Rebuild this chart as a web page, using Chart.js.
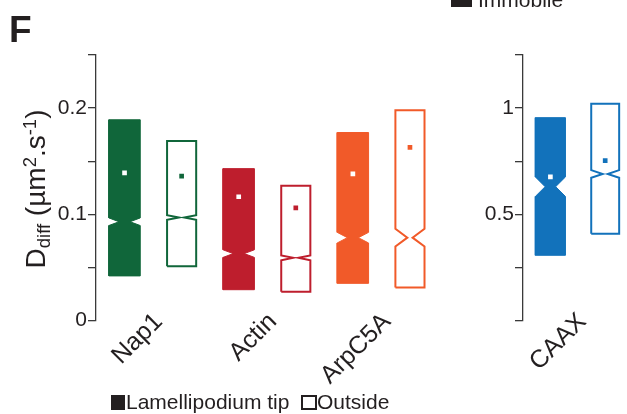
<!DOCTYPE html>
<html><head><meta charset="utf-8">
<script src="https://cdn.jsdelivr.net/npm/chart.js@4.4.1/dist/chart.umd.min.js"></script>
<style>
html,body{margin:0;padding:0;background:#fff;}
body{width:627px;height:414px;position:relative;overflow:hidden;font-family:'Liberation Sans',Arial,Helvetica,sans-serif;color:#231f20;}
canvas{position:absolute;top:0;}
#cA{left:0;}
#cB{left:460px;}
.t{position:absolute;white-space:nowrap;line-height:1;}
.sq{position:absolute;box-sizing:border-box;}
#ytitle{position:absolute;left:36px;top:189px;transform:translate(-50%,-50%) rotate(-90deg);font-size:28px;line-height:1;white-space:nowrap;}
.sub{font-size:0.66em;position:relative;top:0.28em;}
.sup{font-size:0.66em;position:relative;top:-0.5em;}
</style></head>
<body>
<canvas id="cA" width="460" height="414"></canvas>
<canvas id="cB" width="167" height="414"></canvas>
<div class="t" style="left:9px;top:10.7px;font-size:37px;font-weight:bold;">F</div>
<div class="sq" style="left:451px;top:-9px;width:21px;height:16px;background:#231f20;"></div>
<div class="t" style="left:478px;top:-11px;font-size:21px;">Immobile</div>
<div id="ytitle">D<span class="sub">diff</span> (µm<span class="sup">2</span>.s<span class="sup">-1</span>)</div>
<div class="sq" style="left:111px;top:395px;width:14px;height:15px;background:#231f20;"></div>
<div class="t" style="left:126px;top:391px;font-size:21px;">Lamellipodium tip</div>
<div class="sq" style="left:301px;top:395px;width:16px;height:15px;border:2px solid #231f20;"></div>
<div class="t" style="left:317px;top:391px;font-size:21px;">Outside</div>
<script>
// ---- data ----
const groupsA = ['Nap1', 'Actin', 'ArpC5A'];
const groupsB = ['CAAX'];
const colorsA = ['#10663a', '#be1e2d', '#f15a29'];
const colorsB = ['#1272bb'];
// Lamellipodium tip (filled boxes)
const tipQ1A = [0.042, 0.029, 0.035];
const tipQ3A = [0.189, 0.143, 0.177];
const tipMedA = [0.093, 0.063, 0.078];
const tipNotchA = [0.0036, 0.0036, 0.005];
const tipMeanA = [0.139, 0.1165, 0.138];
// Outside (open boxes)
const outQ1A = [0.051, 0.027, 0.031];
const outQ3A = [0.169, 0.127, 0.198];
const outMedA = [0.097, 0.059, 0.078];
const outNotchA = [0.0022, 0.0023, 0.0083];
const outMeanA = [0.136, 0.106, 0.163];
// CAAX panel
const tipQ1B = [0.307];
const tipQ3B = [0.955];
const tipMedB = [0.63];
const tipNotchB = [0.046];
const tipMeanB = [0.676];
const outQ1B = [0.409];
const outQ3B = [1.021];
const outMedB = [0.69];
const outNotchB = [0.018];
const outMeanB = [0.753];
// axis ticks
const yTicksA = [0, 0.05, 0.1, 0.15, 0.2, 0.25];
const yLabelsA = ['0', '', '0.1', '', '0.2', ''];
const yTicksB = [0, 0.25, 0.5, 0.75, 1, 1.25];
const yLabelsB = ['', '', '0.5', '', '1', ''];

const FONT = "'Liberation Sans', Arial, Helvetica, sans-serif";
const INK = '#231f20';
const AXC = '#3a3a3a';

function notched(cx, q1, q3, med, notch, half, depth) {
  return [
    {x: cx - half, y: q1}, {x: cx + half, y: q1},
    {x: cx + half, y: med - notch}, {x: cx + half - depth, y: med}, {x: cx + half, y: med + notch},
    {x: cx + half, y: q3}, {x: cx - half, y: q3},
    {x: cx - half, y: med + notch}, {x: cx - half + depth, y: med}, {x: cx - half, y: med - notch},
    {x: cx - half, y: q1}
  ];
}

function buildDatasets(groups, colors, t, o) {
  const ds = [];
  const fh = 0.275, oh = 0.255;
  ds.push({
    data: groups.map((g, i) => ({x: 2 * i, y: t.mean[i]})),
    pointStyle: 'rect', pointRadius: 3.3, pointBorderWidth: 0,
    pointBackgroundColor: '#ffffff', showLine: false
  });
  ds.push({
    data: groups.map((g, i) => ({x: 2 * i + 1, y: o.mean[i]})),
    pointStyle: 'rect', pointRadius: 3.3, pointBorderWidth: 0,
    pointBackgroundColor: colors, showLine: false
  });
  groups.forEach((g, i) => {
    ds.push({
      data: notched(2 * i, t.q1[i], t.q3[i], t.med[i], t.notch[i], fh, fh * 0.65),
      showLine: true, fill: 'shape', backgroundColor: colors[i], borderColor: colors[i],
      borderWidth: 1, pointRadius: 0, tension: 0, borderJoinStyle: 'miter'
    });
    ds.push({
      data: notched(2 * i + 1, o.q1[i], o.q3[i], o.med[i], o.notch[i], oh, oh * 0.82),
      showLine: true, fill: false, borderColor: colors[i],
      borderWidth: 2, pointRadius: 0, tension: 0, borderJoinStyle: 'miter'
    });
  });
  return ds;
}

function makeChart(id, groups, colors, t, o, yMax, yTicks, yLabels, xMax, axisW, padRight) {
  const labelPos = groups.map((g, i) => 2 * i + 0.97);
  return new Chart(document.getElementById(id), {
    type: 'scatter',
    data: {datasets: buildDatasets(groups, colors, t, o)},
    options: {
      responsive: false, animation: false, events: [],
      layout: {padding: {left: 0, right: padRight, top: 55, bottom: 0}},
      plugins: {legend: {display: false}, tooltip: {enabled: false}},
      scales: {
        x: {
          type: 'linear', min: -0.5, max: xMax,
          afterBuildTicks: s => { s.ticks = labelPos.map(v => ({value: v})); },
          ticks: {
            autoSkip: false, minRotation: 45, maxRotation: 45, padding: -8, mirror: true,
            callback: (v, i) => groups[i], color: INK, font: {family: FONT, size: 25}
          },
          grid: {display: false, drawTicks: false},
          border: {display: false},
          afterFit: s => { s.height = 93.5; }
        },
        y: {
          min: 0, max: yMax,
          afterBuildTicks: s => { s.ticks = yTicks.map(v => ({value: v})); },
          ticks: {
            autoSkip: false, padding: 1,
            callback: (v, i) => yLabels[i], color: INK, font: {family: FONT, size: 21}
          },
          grid: {drawOnChartArea: false, drawTicks: true, tickLength: 8, color: AXC, lineWidth: 1.3},
          border: {display: true, color: AXC, width: 1.3},
          afterFit: s => { s.width = axisW; }
        }
      }
    }
  });
}

makeChart('cA', groupsA, colorsA,
  {q1: tipQ1A, q3: tipQ3A, med: tipMedA, notch: tipNotchA, mean: tipMeanA},
  {q1: outQ1A, q3: outQ3A, med: outMedA, notch: outNotchA, mean: outMeanA},
  0.25, yTicksA, yLabelsA, 5.5, 96, 21.5);
makeChart('cB', groupsB, colorsB,
  {q1: tipQ1B, q3: tipQ3B, med: tipMedB, notch: tipNotchB, mean: tipMeanB},
  {q1: outQ1B, q3: outQ3B, med: outMedB, notch: outNotchB, mean: outMeanB},
  1.25, yTicksB, yLabelsB, 1.325, 63, 0);
</script>
</body></html>
